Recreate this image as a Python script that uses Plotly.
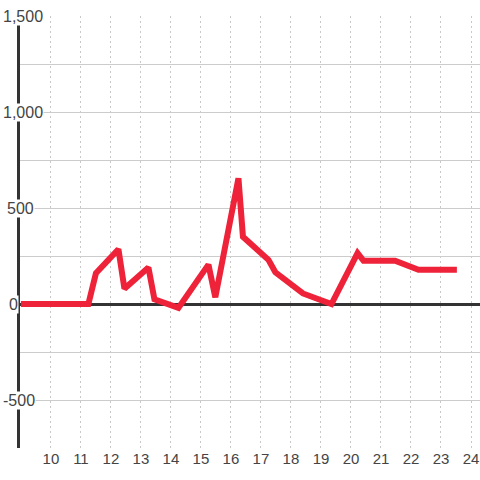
import plotly.graph_objects as go

# hours of day vs value
hours = [9, 11.25, 11.5, 12.25, 12.45, 13.25, 13.45, 14.25, 15.25, 15.48, 16.25, 16.4,
         17.25, 17.48, 18.4, 19.35, 20.22, 20.42, 21.47, 22.25, 23.53]
values = [0, 0, 160, 285, 80, 190, 25, -20, 205, 35, 655, 350,
          230, 165, 55, 0, 265, 225, 225, 178, 178]

x_ticks = list(range(10, 25))
y_ticks = [1500, 1000, 500, 0, -500]
y_labels = ["1,500", "1,000", "500", "0", "-500"]

fig = go.Figure()
fig.add_trace(go.Scatter(x=hours, y=values, mode='lines',
                         line=dict(color='#ee2238', width=6), hoverinfo='skip'))

fig.update_layout(
    width=480, height=480,
    margin=dict(l=20, r=0, t=16, b=32),
    paper_bgcolor='white', plot_bgcolor='white',
    showlegend=False,
    font=dict(family='Liberation Sans, Arial, sans-serif', size=15, color='#444'),
)
fig.update_xaxes(range=[8.97, 24.3], tickvals=x_ticks, showgrid=True,
                 gridcolor='#c8c8c8', griddash='2px,3px', gridwidth=1, automargin=False,
                 zeroline=False, showline=False, ticks='', ticklen=0)
fig.update_yaxes(range=[-750, 1500], dtick=250, showgrid=True, gridcolor='#cccccc',
                 gridwidth=1, showticklabels=False, zeroline=True, automargin=False,
                 zerolinecolor='#333333', zerolinewidth=3,
                 showline=True, linecolor='#333333', linewidth=3)

# left-side labels sit over the axis line with a white box
offsets = [-18, -18, -14, -12, -18]
for v, lab, dx in zip(y_ticks, y_labels, offsets):
    fig.add_annotation(x=0, xref='paper', y=v, yref='y', text=lab, showarrow=False,
                       xanchor='left', yanchor='middle', xshift=dx,
                       bgcolor='white', borderpad=0,
                       font=dict(size=16, color='#444'))

fig.write_html("out.html", config={'displayModeBar': False},
               post_script="document.body.style.margin='0';")
